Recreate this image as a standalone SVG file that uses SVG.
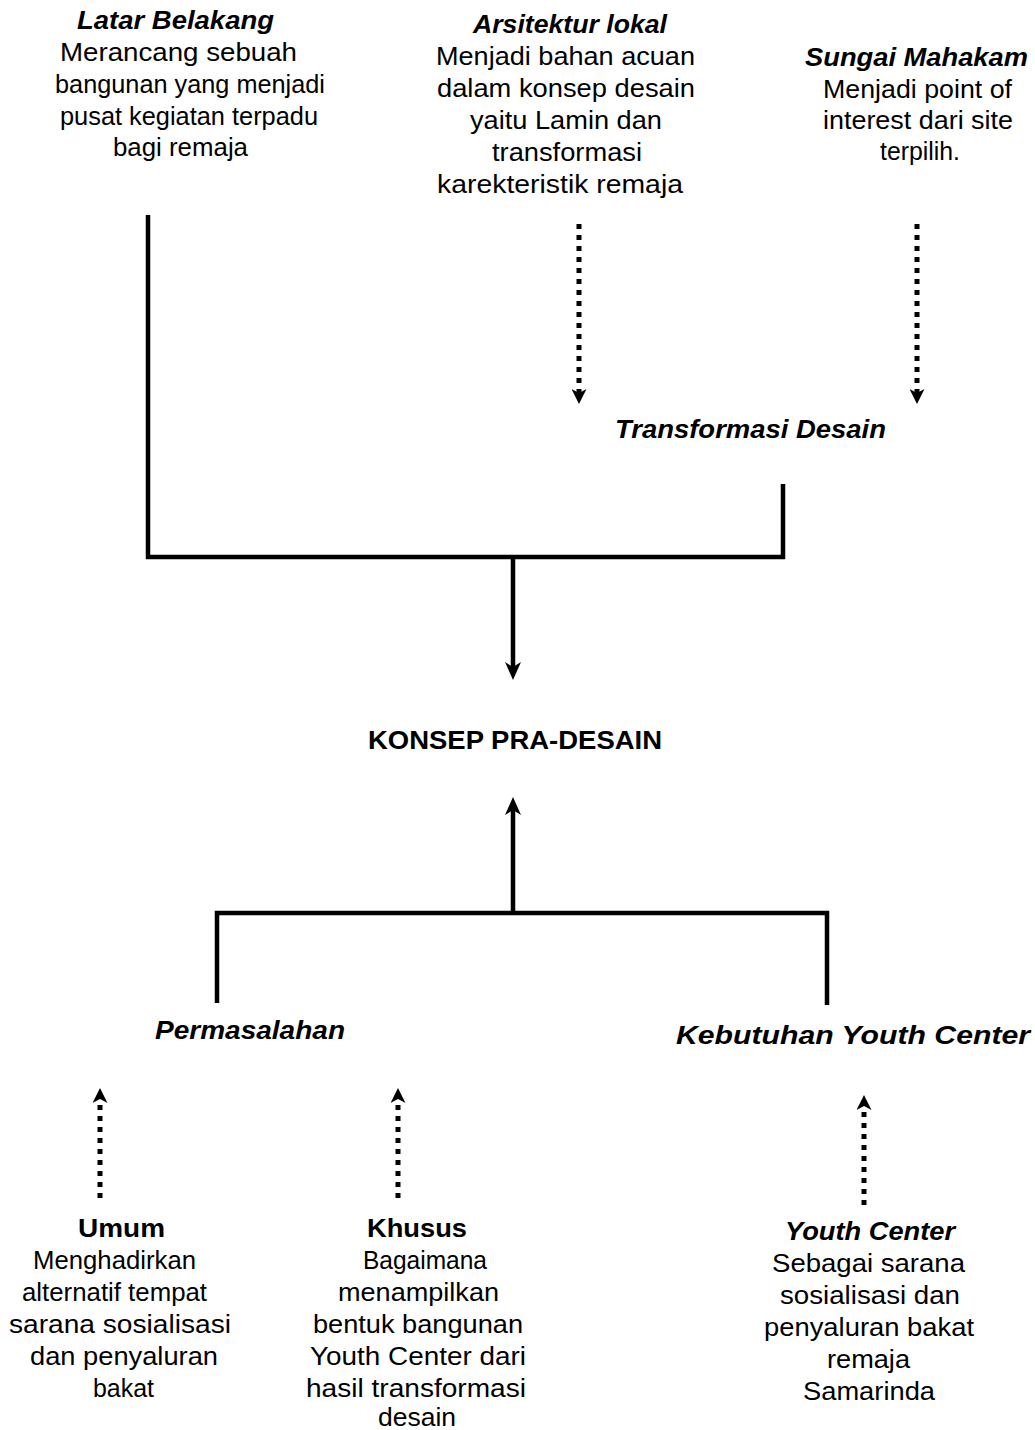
<svg xmlns="http://www.w3.org/2000/svg" width="1035" height="1430" viewBox="0 0 1035 1430">
<style>
text{font-family:"Liberation Sans",Arial,sans-serif;font-size:25px;fill:#000}
.h{font-weight:bold;font-style:italic}
.b{font-weight:bold}
.solid{stroke:#000;stroke-width:4.5;fill:none}
.dot{stroke:#000;stroke-width:5;fill:none;stroke-dasharray:5 6}
</style>
<defs>
<marker id="ah" viewBox="0 0 18 16" refX="5" refY="8" markerWidth="18" markerHeight="16" markerUnits="userSpaceOnUse" orient="auto"><path d="M0,0 L18,8 L0,16 L5,8 Z" fill="#000"/></marker>
<marker id="dh" viewBox="0 0 15 15" refX="4" refY="7.5" markerWidth="15" markerHeight="15" markerUnits="userSpaceOnUse" orient="auto"><path d="M0,0 L15,7.5 L0,15 L4,7.5 Z" fill="#000"/></marker>
</defs>
<rect width="1035" height="1430" fill="#fff"/>
<g id="connectors">
<path class="solid" d="M148,215 V557 H783 V484"/>
<line class="solid" x1="513" y1="557" x2="513" y2="667" marker-end="url(#ah)"/>
<path class="solid" d="M217,1003 V913 H827 V1005"/>
<line class="solid" x1="513" y1="913" x2="513" y2="810" marker-end="url(#ah)"/>
<line class="dot" x1="579" y1="224" x2="579" y2="393" marker-end="url(#dh)"/>
<line class="dot" x1="917" y1="224" x2="917" y2="393" marker-end="url(#dh)"/>
<line class="dot" x1="100" y1="1198" x2="100" y2="1099" marker-end="url(#dh)"/>
<line class="dot" x1="398" y1="1198" x2="398" y2="1099" marker-end="url(#dh)"/>
<line class="dot" x1="864" y1="1205" x2="864" y2="1106" marker-end="url(#dh)"/>
</g>
<g id="latar-belakang">
<text class="h" x="77" y="29" textLength="197" lengthAdjust="spacingAndGlyphs">Latar Belakang</text>
<text x="60" y="61" textLength="237" lengthAdjust="spacingAndGlyphs">Merancang sebuah</text>
<text x="55" y="93" textLength="270" lengthAdjust="spacingAndGlyphs">bangunan yang menjadi</text>
<text x="60" y="125" textLength="258" lengthAdjust="spacingAndGlyphs">pusat kegiatan terpadu</text>
<text x="113" y="156" textLength="135" lengthAdjust="spacingAndGlyphs">bagi remaja</text>
</g>
<g id="arsitektur-lokal">
<text class="h" x="473" y="33" textLength="194" lengthAdjust="spacingAndGlyphs">Arsitektur lokal</text>
<text x="436" y="65" textLength="259" lengthAdjust="spacingAndGlyphs">Menjadi bahan acuan</text>
<text x="437" y="97" textLength="258" lengthAdjust="spacingAndGlyphs">dalam konsep desain</text>
<text x="470" y="129" textLength="192" lengthAdjust="spacingAndGlyphs">yaitu Lamin dan</text>
<text x="492" y="161" textLength="150" lengthAdjust="spacingAndGlyphs">transformasi</text>
<text x="437" y="193" textLength="246" lengthAdjust="spacingAndGlyphs">karekteristik remaja</text>
</g>
<g id="sungai-mahakam">
<text class="h" x="805" y="66" textLength="223" lengthAdjust="spacingAndGlyphs">Sungai Mahakam</text>
<text x="823" y="98" textLength="189" lengthAdjust="spacingAndGlyphs">Menjadi point of</text>
<text x="823" y="129" textLength="190" lengthAdjust="spacingAndGlyphs">interest dari site</text>
<text x="880" y="160" textLength="80" lengthAdjust="spacingAndGlyphs">terpilih.</text>
</g>
<g id="transformasi-desain">
<text class="h" x="615" y="438" textLength="271" lengthAdjust="spacingAndGlyphs">Transformasi Desain</text>
</g>
<g id="konsep-pra-desain">
<text class="b" x="368" y="749" textLength="294" lengthAdjust="spacingAndGlyphs">KONSEP PRA-DESAIN</text>
</g>
<g id="permasalahan">
<text class="h" x="155" y="1039" textLength="190" lengthAdjust="spacingAndGlyphs">Permasalahan</text>
</g>
<g id="kebutuhan-youth-center">
<text class="h" x="676" y="1044" textLength="354" lengthAdjust="spacingAndGlyphs">Kebutuhan Youth Center</text>
</g>
<g id="umum">
<text class="b" x="78" y="1237" textLength="87" lengthAdjust="spacingAndGlyphs">Umum</text>
<text x="33" y="1269" textLength="163" lengthAdjust="spacingAndGlyphs">Menghadirkan</text>
<text x="22" y="1301" textLength="185" lengthAdjust="spacingAndGlyphs">alternatif tempat</text>
<text x="9" y="1333" textLength="222" lengthAdjust="spacingAndGlyphs">sarana sosialisasi</text>
<text x="30" y="1365" textLength="188" lengthAdjust="spacingAndGlyphs">dan penyaluran</text>
<text x="93" y="1397" textLength="61" lengthAdjust="spacingAndGlyphs">bakat</text>
</g>
<g id="khusus">
<text class="b" x="367" y="1237" textLength="100" lengthAdjust="spacingAndGlyphs">Khusus</text>
<text x="363" y="1269" textLength="124" lengthAdjust="spacingAndGlyphs">Bagaimana</text>
<text x="338" y="1301" textLength="161" lengthAdjust="spacingAndGlyphs">menampilkan</text>
<text x="313" y="1333" textLength="210" lengthAdjust="spacingAndGlyphs">bentuk bangunan</text>
<text x="310" y="1365" textLength="216" lengthAdjust="spacingAndGlyphs">Youth Center dari</text>
<text x="306" y="1397" textLength="220" lengthAdjust="spacingAndGlyphs">hasil transformasi</text>
<text x="378" y="1426" textLength="78" lengthAdjust="spacingAndGlyphs">desain</text>
</g>
<g id="youth-center">
<text class="h" x="785" y="1240" textLength="170" lengthAdjust="spacingAndGlyphs">Youth Center</text>
<text x="772" y="1272" textLength="193" lengthAdjust="spacingAndGlyphs">Sebagai sarana</text>
<text x="780" y="1304" textLength="180" lengthAdjust="spacingAndGlyphs">sosialisasi dan</text>
<text x="764" y="1336" textLength="210" lengthAdjust="spacingAndGlyphs">penyaluran bakat</text>
<text x="827" y="1368" textLength="83" lengthAdjust="spacingAndGlyphs">remaja</text>
<text x="803" y="1400" textLength="132" lengthAdjust="spacingAndGlyphs">Samarinda</text>
</g>
</svg>
